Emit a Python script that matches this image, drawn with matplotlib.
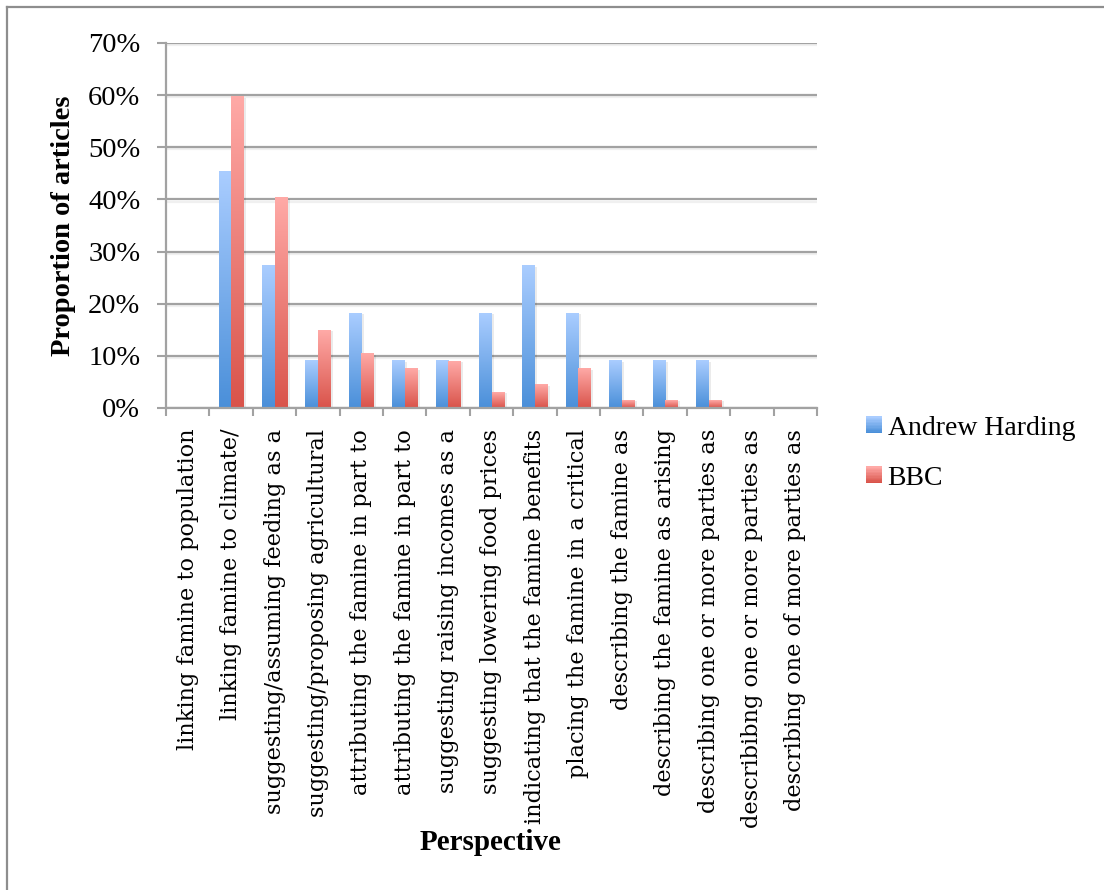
import numpy as np
import matplotlib
matplotlib.use("Agg")
import matplotlib.pyplot as plt
from matplotlib.colors import LinearSegmentedColormap
from matplotlib.legend_handler import HandlerBase
from matplotlib.patches import Rectangle, Patch
from matplotlib.lines import Line2D
import matplotlib.patheffects as pe

categories = [
    "linking famine to population",
    "linking famine to climate/",
    "suggesting/assuming feeding as a",
    "suggesting/proposing agricultural",
    "attributing the famine in part to",
    "attributing the famine in part to",
    "suggesting raising incomes as a",
    "suggesting lowering food prices",
    "indicating that the famine benefits",
    "placing the famine in a critical",
    "describing the famine as",
    "describing the famine as arising",
    "describing one or more parties as",
    "describibng one or more parties as",
    "describing one of more parties as",
]
harding = [0.0, 0.4545, 0.2727, 0.0909, 0.1818, 0.0909, 0.0909, 0.1818,
           0.2727, 0.1818, 0.0909, 0.0909, 0.0909, 0.0, 0.0]
bbc = [0.0, 0.597, 0.403, 0.149, 0.104, 0.075, 0.090, 0.030,
       0.045, 0.075, 0.015, 0.015, 0.015, 0.0, 0.0]
series_names = ["Andrew Harding", "BBC"]
y_ticks = [0.0, 0.1, 0.2, 0.3, 0.4, 0.5, 0.6, 0.7]
y_ticklabels = ["0%", "10%", "20%", "30%", "40%", "50%", "60%", "70%"]

# gradient end colours (bottom, top) for each series
blue_grad = ("#4a8fd9", "#aacdff")
red_grad = ("#d9534a", "#ffaaa7")

SERIF = "Liberation Serif"
GRID = "#a2a2a2"

fig = plt.figure(figsize=(11.04, 8.90), dpi=100)
ax = fig.add_axes([166 / 1104, 1 - 408 / 890, 651 / 1104, 365 / 890])

x = np.arange(len(categories))
bw = 0.29
shadow = [pe.SimplePatchShadow(offset=(1.8, -0.8), shadow_rgbFace="#000000", alpha=0.08),
          pe.Normal()]
bars_h = ax.bar(x - bw / 2, harding, bw, color=blue_grad[0], zorder=3, path_effects=shadow)
bars_b = ax.bar(x + bw / 2, bbc, bw, color=red_grad[0], zorder=3, path_effects=shadow)

ax.set_xlim(-0.5, len(categories) - 0.5)
ax.set_ylim(0, 0.7)

grad = np.linspace(0, 1, 256).reshape(-1, 1)
for bars, (lo, hi) in ((bars_h, blue_grad), (bars_b, red_grad)):
    cmap = LinearSegmentedColormap.from_list("g", [lo, hi])
    for p in bars:
        h = p.get_height()
        if h <= 0:
            continue
        x0, y0 = p.get_xy()
        ax.imshow(grad, extent=[x0, x0 + p.get_width(), y0, y0 + h], origin="lower",
                  aspect="auto", cmap=cmap, interpolation="bilinear", zorder=3.5)
ax.set_xlim(-0.5, len(categories) - 0.5)
ax.set_ylim(0, 0.7)
ax.set_aspect("auto")

# grid and spines
ax.set_axisbelow(True)
ax.yaxis.grid(True, color=GRID, lw=1.6)
for s in ("top", "right"):
    ax.spines[s].set_visible(False)
for s in ("left", "bottom"):
    ax.spines[s].set_color(GRID)
    ax.spines[s].set_linewidth(1.6)
ax.spines["bottom"].set_zorder(5)

ax.set_yticks(y_ticks)
ax.set_yticklabels(y_ticklabels, fontfamily=SERIF, fontsize=20.5)
ax.tick_params(axis="y", length=6.5, width=1.5, color=GRID, pad=12)
for gl in ax.get_ygridlines():
    gl.set_path_effects([pe.SimpleLineShadow(offset=(0, -1.5), shadow_color="#000000",
                                             alpha=0.06), pe.Normal()])

ax.set_xticks(x)
ax.set_xticklabels(categories, rotation=90, fontfamily="DejaVu Serif", fontsize=16.2,
                   va="top", ha="center")
ax.set_xticks(np.arange(-0.5, len(categories)), minor=True)
ax.tick_params(axis="x", which="major", length=0, pad=15)
ax.tick_params(axis="x", which="minor", length=6, width=1.5, color=GRID)

ax.set_ylabel("Proportion of articles", fontfamily=SERIF, fontweight="bold",
              fontsize=20.5, va="center")
ax.yaxis.set_label_coords(-0.158, 0.5)
fig.text(491 / 1104, 1 - 843 / 890, "Perspective", fontfamily=SERIF, fontweight="bold",
         fontsize=21, ha="center", va="center")


class GradientSquare(HandlerBase):
    def __init__(self, lo, hi, n=12):
        super().__init__()
        self.lo, self.hi, self.n = lo, hi, n

    def create_artists(self, legend, orig_handle, xdescent, ydescent, width, height,
                       fontsize, trans):
        cmap = LinearSegmentedColormap.from_list("g", [self.lo, self.hi])
        arts = []
        for k in range(self.n):
            r = Rectangle((-xdescent, -ydescent + height * k / self.n), width,
                          height / self.n + 0.3, facecolor=cmap(k / (self.n - 1)),
                          edgecolor="none", transform=trans)
            arts.append(r)
        return arts


h1 = Patch(label=series_names[0])
h2 = Patch(label=series_names[1])
fig.legend([h1, h2], series_names, loc="center left",
           bbox_to_anchor=(841 / 1104, 1 - 453 / 890), frameon=False,
           prop={"family": SERIF, "size": 20},
           handlelength=0.56, handleheight=0.56, handletextpad=0.22,
           labelspacing=0.9,
           handler_map={h1: GradientSquare(*blue_grad), h2: GradientSquare(*red_grad)})

# outer chart frame
fig.add_artist(Line2D([7 / 1104, 7 / 1104], [0, 1 - 7 / 890], transform=fig.transFigure,
                      color="#8e8e8e", lw=1.6))
fig.add_artist(Line2D([7 / 1104, 1], [1 - 7 / 890, 1 - 7 / 890], transform=fig.transFigure,
                      color="#8e8e8e", lw=1.6))

fig.savefig("out.png", dpi=100, facecolor="white")
